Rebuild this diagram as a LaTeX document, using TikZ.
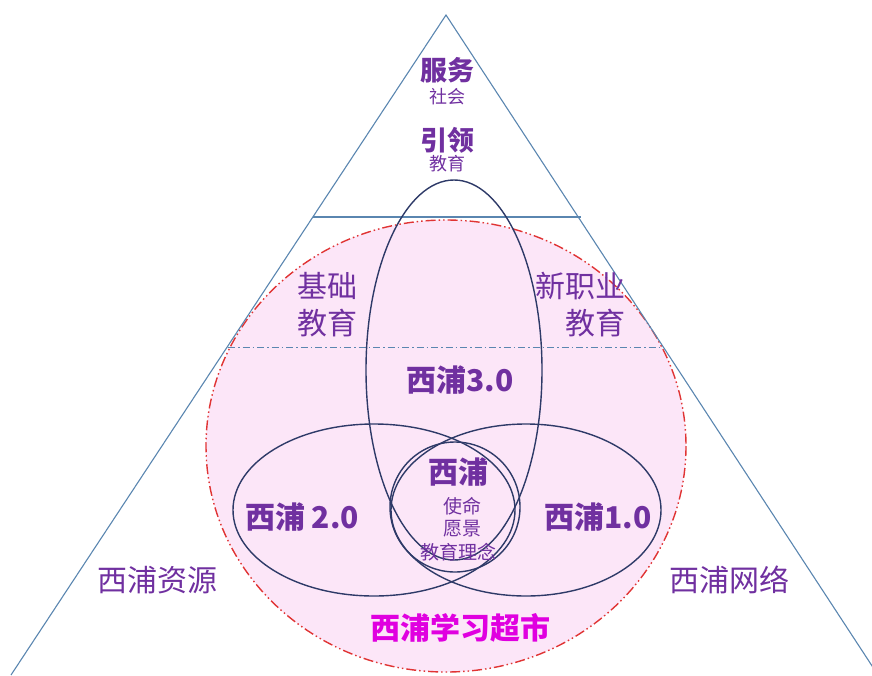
\documentclass[tikz,border=0pt]{standalone}
\usepackage{fontspec}
\setmainfont{Noto Sans CJK SC}
\usetikzlibrary{calc}
\definecolor{tri}{HTML}{5A86B0}
\definecolor{ell}{HTML}{2E3A68}
\definecolor{pinkfill}{HTML}{FCE6F8}
\definecolor{redd}{HTML}{E03434}
\definecolor{purp}{HTML}{7030A0}
\definecolor{mag}{HTML}{E000E0}
\tikzset{
  triline/.style={draw=tri, line width=1.1pt},
  ellline/.style={draw=ell, line width=1.4pt},
  lbl/.style={text=purp, inner sep=0pt, font=\fontsize{30}{32}\selectfont},
  blbl/.style={text=purp, inner sep=0pt, font=\fontsize{30}{32}\selectfont\bfseries},
  slbl/.style={text=purp, inner sep=0pt, font=\fontsize{19}{21}\selectfont},
}
\begin{document}
\begin{tikzpicture}[x=1pt,y=-1pt]
\useasboundingbox (0,0) rectangle (872,675);
% pink circle
\fill[pinkfill] (446,446) ellipse [x radius=240, y radius=226];
\draw[redd, line width=1.4pt, dash pattern=on 10pt off 3pt on 1.5pt off 3pt on 1.5pt off 3pt] (446,446) ellipse [x radius=240, y radius=226];
% triangle
\coordinate (apex) at (446,15);
\coordinate (bl) at (11,675);
\coordinate (br) at (878,675);
\draw[triline] (bl) -- (apex) -- (br);
\draw[triline] (313,217) -- (581,217);
\draw[draw=tri, line width=0.9pt, dash pattern=on 7pt off 3pt on 1.5pt off 3pt] (228,347) -- (664,347);
% ellipses
\draw[ellline] (454,370) ellipse [x radius=88, y radius=190];
\draw[ellline] (374,510) ellipse [x radius=141, y radius=86];
\draw[ellline] (526,510) ellipse [x radius=135, y radius=86];
\draw[ellline] (455,507) circle [radius=65];
% texts
\node[blbl, font=\fontsize{27}{29}\selectfont\bfseries] (fw) at (447,70) {服务};
\node[slbl, font=\fontsize{18}{20}\selectfont] (sh) at (447,97) {社会};
\node[blbl, font=\fontsize{27}{29}\selectfont\bfseries] (yl) at (447,140) {引领};
\node[slbl, font=\fontsize{18}{20}\selectfont] (jy1) at (447,164) {教育};
\node[lbl] (jc) at (327,286) {基础};
\node[lbl] (jy2) at (327,323) {教育};
\node[lbl, anchor=east] (xzy) at (626,286) {新职业};
\node[lbl, anchor=east] (jy3) at (626,323) {教育};
\node[blbl] (v3) at (460,380) {西浦3.0};
\node[blbl] (xp) at (458,472) {西浦};
\node[slbl] (sm) at (462,506) {使命};
\node[slbl] (yj) at (462,529) {愿景};
\node[slbl] (jyln) at (458,552) {教育理念};
\node[blbl] (v2) at (302,517) {西浦 2.0};
\node[blbl] (v1) at (598,517) {西浦1.0};
\node[lbl] (zy) at (157,580) {西浦资源};
\node[lbl] (wl) at (729,580) {西浦网络};
\node[blbl, text=mag] (cs) at (460,628) {西浦学习超市};
\end{tikzpicture}
\end{document}
